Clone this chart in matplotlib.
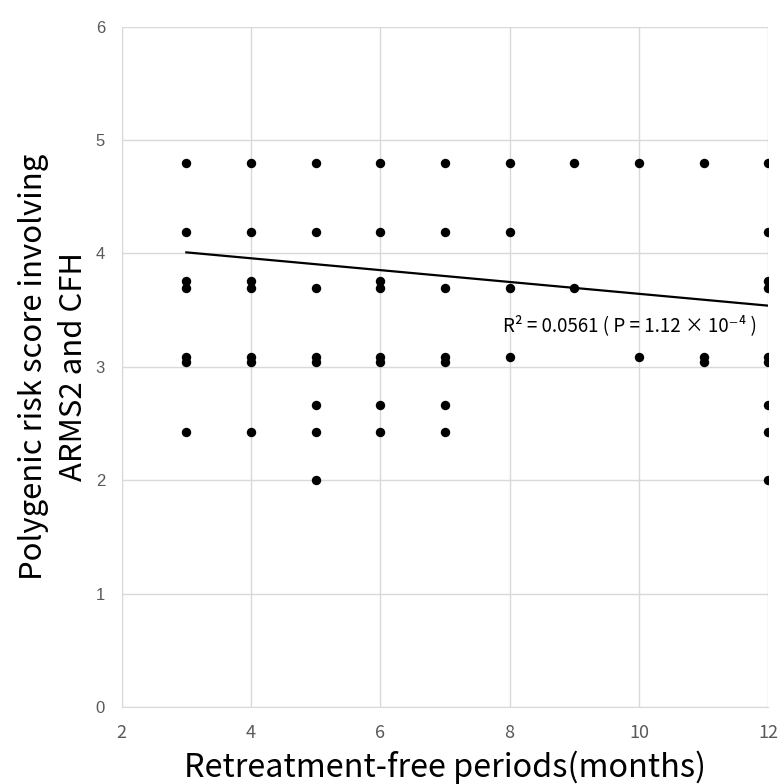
import matplotlib
matplotlib.use("Agg")
import matplotlib.pyplot as plt

# retreatment-free period (months) and risk score, one pair per dot
months = [3, 3, 3, 3, 3, 3, 3,
          4, 4, 4, 4, 4, 4, 4,
          5, 5, 5, 5, 5, 5, 5, 5,
          6, 6, 6, 6, 6, 6, 6, 6,
          7, 7, 7, 7, 7, 7, 7,
          8, 8, 8, 8,
          9, 9,
          10, 10,
          11, 11, 11,
          12, 12, 12, 12, 12, 12, 12, 12, 12]
score = [4.80, 4.19, 3.76, 3.70, 3.09, 3.04, 2.43,
         4.80, 4.19, 3.76, 3.70, 3.09, 3.04, 2.43,
         4.80, 4.19, 3.70, 3.09, 3.04, 2.66, 2.43, 2.00,
         4.80, 4.19, 3.76, 3.70, 3.09, 3.04, 2.66, 2.43,
         4.80, 4.19, 3.70, 3.09, 3.04, 2.66, 2.43,
         4.80, 4.19, 3.70, 3.09,
         4.80, 3.70,
         4.80, 3.09,
         4.80, 3.09, 3.04,
         4.80, 4.19, 3.76, 3.70, 3.09, 3.04, 2.66, 2.43, 2.00]

# linear trend as drawn in the source
trend_x = [3, 12]
trend_y = [4.01, 3.54]

x_ticks = [2, 4, 6, 8, 10, 12]
y_ticks = [0, 1, 2, 3, 4, 5, 6]

label_font = ['Noto Sans CJK JP', 'DejaVu Sans']
tick_col = '#595959'
grid_col = '#d9d9d9'

fig = plt.figure(figsize=(7.8, 7.84), dpi=100)
ax = fig.add_axes([0.156, 0.098, 0.829, 0.868])

ax.scatter(months, score, s=46, color='black', zorder=3, linewidths=0)
ax.plot(trend_x, trend_y, color='black', lw=1.6, zorder=2)

ax.set_xlim(2, 12)
ax.set_ylim(0, 6)
ax.set_xticks(x_ticks)
ax.set_yticks(y_ticks)
ax.grid(True, color=grid_col, lw=1)
ax.set_axisbelow(True)
for s in ['top', 'right']:
    ax.spines[s].set_visible(False)
for s in ['left', 'bottom']:
    ax.spines[s].set_color(grid_col)
ax.tick_params(length=0, pad=12, labelsize=12, labelcolor=tick_col)
for lab in ax.get_xticklabels():
    lab.set_family(label_font)
    lab.set_fontsize(13)
for lab in ax.get_yticklabels():
    lab.set_family('Liberation Sans')

ax.set_xlabel('Retreatment-free periods(months)', fontsize=23.3,
              family=label_font, labelpad=6)
ax.set_ylabel('Polygenic risk score involving\nARMS2 and CFH', fontsize=22.4,
              family=label_font, labelpad=5, linespacing=1.35)

ax.text(7.9, 3.36, 'R² = 0.0561 ( P = 1.12 × 10⁻⁴ )', fontsize=13.5,
        family=label_font, va='center', ha='left')

fig.savefig('out.png', dpi=100)
